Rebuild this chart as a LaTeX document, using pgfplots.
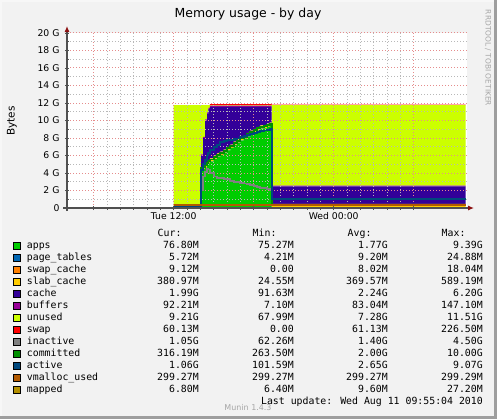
\documentclass[border=0pt]{standalone}
\usepackage{pgfplots}
\usepackage{pgfplotstable}
\pgfplotsset{compat=1.18}
\usepackage{fontspec}
\setmainfont{DejaVu Sans}
\newfontfamily\mono{DejaVu Sans Mono}
\usetikzlibrary{arrows.meta}
\definecolor{c0}{HTML}{00CC00}
\definecolor{c1}{HTML}{0066B3}
\definecolor{c2}{HTML}{FF8000}
\definecolor{c3}{HTML}{FFCC00}
\definecolor{c4}{HTML}{330099}
\definecolor{c5}{HTML}{990099}
\definecolor{c6}{HTML}{CCFF00}
\definecolor{c7}{HTML}{FF0000}
\definecolor{c8}{HTML}{808080}
\definecolor{c9}{HTML}{008F00}
\definecolor{c10}{HTML}{00487D}
\definecolor{c11}{HTML}{B35A00}
\definecolor{c12}{HTML}{B38F00}
\definecolor{bgc}{HTML}{F2F2F2}
\definecolor{mgrid}{HTML}{E58C8C}
\definecolor{ngrid}{HTML}{B8B8B8}
\definecolor{axc}{HTML}{505050}
\definecolor{arc}{HTML}{8B1010}
\pgfplotstableread{
t     apps  pt     sc     slab  cache buf   unused swap  inact comm  act   vm    map
12.00 0.080 0.005  0.000  0.030 0.130 0.010 11.510 0.000 0.070 0.270 0.110 0.299 0.007
14.05 4.30  0.020  0.010  0.350 1.320 0.140 5.620  0.000 2.00  4.55  4.30  0.299 0.010
14.20 4.45  0.020  0.010  0.350 3.170 0.140 3.620  0.000 3.60  4.70  5.00  0.299 0.010
14.35 4.60  0.020  0.010  0.350 5.020 0.140 1.620  0.000 4.10  4.85  5.50  0.299 0.010
14.50 4.90  0.020  0.010  0.350 5.520 0.140 0.820  0.000 4.50  5.15  6.00  0.299 0.010
14.60 5.10  0.020  0.010  0.350 5.820 0.140 0.320  0.000 4.40  5.35  6.30  0.299 0.010
14.72 5.30  0.020  0.010  0.350 5.870 0.140 0.070  0.120 4.00  5.55  6.60  0.299 0.010
15.00 5.60  0.020  0.010  0.350 5.570 0.140 0.070  0.120 3.60  5.85  7.00  0.299 0.010
15.25 5.85  0.020  0.010  0.350 5.320 0.140 0.070  0.120 3.45  6.10  7.20  0.299 0.010
15.50 6.05  0.020  0.010  0.350 5.120 0.140 0.070  0.120 3.40  6.30  7.50  0.299 0.010
15.75 6.30  0.020  0.010  0.350 4.870 0.140 0.070  0.120 3.35  6.55  7.65  0.299 0.010
16.00 6.60  0.020  0.010  0.350 4.570 0.140 0.070  0.120 3.30  6.85  7.75  0.299 0.010
16.25 6.85  0.020  0.010  0.350 4.320 0.140 0.070  0.120 3.10  7.10  7.80  0.299 0.010
16.50 7.20  0.020  0.010  0.350 3.970 0.140 0.070  0.120 3.00  7.45  7.85  0.299 0.010
16.75 7.45  0.020  0.010  0.350 3.720 0.140 0.070  0.120 2.95  7.70  7.95  0.299 0.010
17.00 7.70  0.020  0.010  0.350 3.470 0.140 0.070  0.120 2.85  7.95  8.10  0.299 0.010
17.25 7.90  0.020  0.010  0.350 3.270 0.140 0.070  0.120 2.80  8.15  8.20  0.299 0.010
17.50 8.20  0.020  0.010  0.350 2.970 0.140 0.070  0.120 2.70  8.45  8.35  0.299 0.010
17.75 8.45  0.020  0.010  0.350 2.720 0.140 0.070  0.120 2.60  8.70  8.45  0.299 0.010
18.00 8.65  0.020  0.010  0.350 2.520 0.140 0.070  0.120 2.50  8.90  8.55  0.299 0.010
18.25 8.85  0.020  0.010  0.350 2.320 0.140 0.070  0.120 2.40  9.10  8.65  0.299 0.010
18.50 9.05  0.020  0.010  0.350 2.120 0.140 0.070  0.120 2.30  9.30  8.80  0.299 0.010
18.75 9.10  0.020  0.010  0.350 2.070 0.140 0.070  0.120 2.25  9.35  8.85  0.299 0.010
19.00 9.25  0.020  0.010  0.350 1.920 0.140 0.070  0.120 2.15  9.50  8.95  0.299 0.010
19.20 9.39  0.020  0.010  0.350 1.780 0.140 0.070  0.120 2.10  9.65  9.07  0.299 0.010
19.35 0.077 0.0057 0.0091 0.381 1.990 0.092 9.210  0.060 1.05  0.316 1.06  0.299 0.0068
33.90 0.077 0.0057 0.0091 0.381 1.990 0.092 9.210  0.060 1.05  0.316 1.06  0.299 0.0068
}\mem
\begin{document}
\begin{tikzpicture}[x=1bp,y=1bp]
\fill[bgc] (0,0) rectangle (497,419);
\fill[white!97!black] (0,0) rectangle (2,419);
\fill[white!97!black] (0,417) rectangle (497,419);
\fill[black!38] (494,0) rectangle (497,419);
\fill[black!38] (0,0) rectangle (497,3);
\coordinate (O) at (67,211);
\begin{axis}[
  at={(O)}, anchor=south west,
  scale only axis, width=400bp, height=175bp,
  xmin=4, xmax=34, ymin=0, ymax=20,
  enlargelimits=false,
  stack plots=y,
  axis background/.style={fill=white},
  axis on top,
  axis line style={draw=none},
  xtick={6,12,18,24,30},
  xticklabels={,Tue 12:00,,Wed 00:00,},
  minor x tick num=5,
  ytick={0,2,...,20},
  yticklabels={0,2 G,4 G,6 G,8 G,10 G,12 G,14 G,16 G,18 G,20 G},
  minor y tick num=1,
  grid=both,
  major grid style={mgrid, line width=1bp, dash pattern=on 1bp off 2bp},
  minor grid style={ngrid, line width=1bp, dash pattern=on 1bp off 2bp},
  tick align=center,
  xtick pos=left, ytick pos=left,
  major tick length=4bp, minor tick length=3bp,
  tick style={axc, line width=0.7bp},
  ticklabel style={font=\fontsize{9.3}{10}\selectfont},
  /pgf/number format/assume math mode=true,
  yticklabel style={xshift=-2bp},
  xticklabel style={yshift=1bp},
]
\addplot[fill=c0, draw=none, const plot mark left] table[x=t,y=apps]{\mem} \closedcycle;
\addplot[fill=c1, draw=none, const plot mark left] table[x=t,y=pt]{\mem} \closedcycle;
\addplot[fill=c2, draw=none, const plot mark left] table[x=t,y=sc]{\mem} \closedcycle;
\addplot[fill=c3, draw=none, const plot mark left] table[x=t,y=slab]{\mem} \closedcycle;
\addplot[fill=c4, draw=none, const plot mark left] table[x=t,y=cache]{\mem} \closedcycle;
\addplot[fill=c5, draw=none, const plot mark left] table[x=t,y=buf]{\mem} \closedcycle;
\addplot[fill=c6, draw=none, const plot mark left] table[x=t,y=unused]{\mem} \closedcycle;
\addplot[fill=c7, draw=none, const plot mark left] table[x=t,y=swap]{\mem} \closedcycle;
\end{axis}
\begin{axis}[
  at={(O)}, anchor=south west,
  scale only axis, width=400bp, height=175bp,
  xmin=4, xmax=34, ymin=0, ymax=20,
  enlargelimits=false, hide axis,
]
\addplot[c8, line width=1.8bp, const plot mark left] table[x=t,y=inact]{\mem};
\addplot[c9, line width=1.8bp, const plot mark left] table[x=t,y=comm]{\mem};
\addplot[c10, line width=1.8bp, const plot mark left] table[x=t,y=act]{\mem};
\addplot[c11, line width=1.8bp, const plot mark left] table[x=t,y=vm]{\mem};
\addplot[c12, line width=1.8bp, const plot mark left] table[x=t,y=map]{\mem};
\end{axis}
% axis lines
\draw[axc, line width=1.1bp, -{Latex[length=6bp,width=5bp,color=arc]}] (63,211) -- (474,211);
\draw[axc, line width=1.1bp, -{Latex[length=6bp,width=5bp,color=arc]}] (67,208) -- (67,393);
% title and labels
\node at (248,405) {\fontsize{12.5}{14}\selectfont Memory usage - by day};
\node[rotate=90] at (12,298) {\fontsize{10.5}{12}\selectfont Bytes};
\node[rotate=-90, text=black!35] at (488,361) {\fontsize{7.5}{8}\selectfont RRDTOOL / TOBI OETIKER};
% legend
\begin{scope}[font=\mono\fontsize{9.9}{12}\selectfont]
\node[anchor=mid east] at (185,185) {Cur:};
\node[anchor=mid east] at (280,185) {Min:};
\node[anchor=mid east] at (375,185) {Avg:};
\node[anchor=mid east] at (469,185) {Max:};
\foreach \c/\n/\a/\b/\d/\e [count=\i from 0] in {
 c0/apps/76.80M/75.27M/1.77G/9.39G,
 c1/page\_tables/5.72M/4.21M/9.20M/24.88M,
 c2/swap\_cache/9.12M/0.00/8.02M/18.04M,
 c3/slab\_cache/380.97M/24.55M/369.57M/589.19M,
 c4/cache/1.99G/91.63M/2.24G/6.20G,
 c5/buffers/92.21M/7.10M/83.04M/147.10M,
 c6/unused/9.21G/67.99M/7.28G/11.51G,
 c7/swap/60.13M/0.00/61.13M/226.50M,
 c8/inactive/1.05G/62.26M/1.40G/4.50G,
 c9/committed/316.19M/263.50M/2.00G/10.00G,
 c10/active/1.06G/101.59M/2.65G/9.07G,
 c11/vmalloc\_used/299.27M/299.27M/299.27M/299.29M,
 c12/mapped/6.80M/6.40M/9.60M/27.20M}{
  \pgfmathsetmacro{\yy}{173.3-12*\i}
  \filldraw[fill=\c, draw=black, line width=0.6bp] (13.5,\yy-3.7) rectangle (20.5,\yy+3.7);
  \node[anchor=mid west, inner sep=0pt] at (26.7,\yy) {\n};
  \node[anchor=mid east, inner sep=0pt] at (199,\yy) {\a};
  \node[anchor=mid east, inner sep=0pt] at (294,\yy) {\b};
  \node[anchor=mid east, inner sep=0pt] at (388,\yy) {\d};
  \node[anchor=mid east, inner sep=0pt] at (483,\yy) {\e};
}
\node[anchor=mid east, inner sep=0pt] at (483,17.3) {Last update: Wed Aug 11 09:55:04 2010};
\end{scope}
\node[text=black!35] at (248,11) {\fontsize{8}{9}\selectfont Munin 1.4.3};
\end{tikzpicture}
\end{document}
